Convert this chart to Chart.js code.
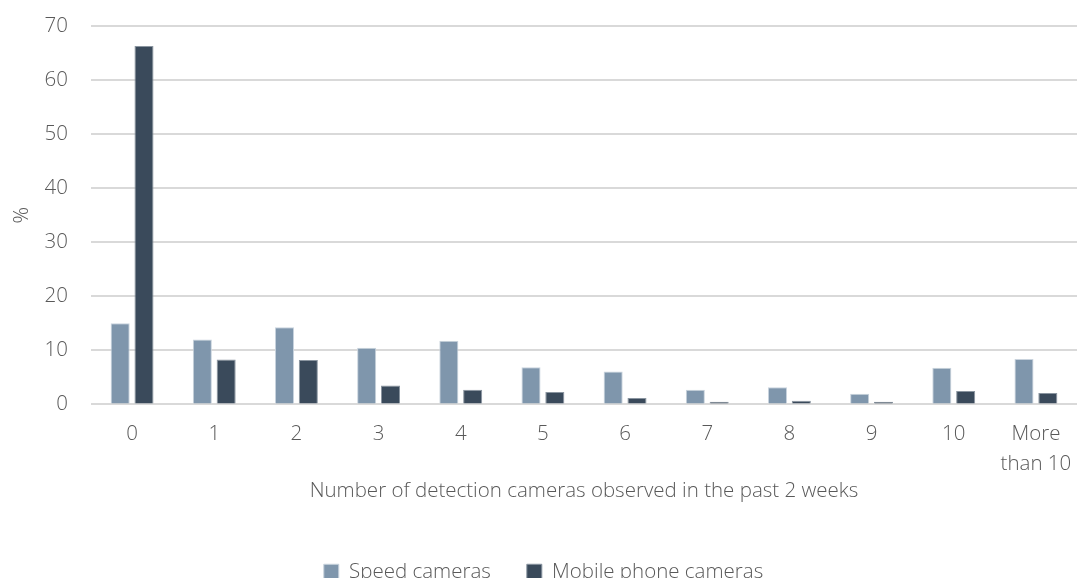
<!DOCTYPE html>
<html>
<head>
<meta charset="utf-8">
<script src="https://cdn.jsdelivr.net/npm/chart.js@4"></script>
<style>
  html, body { margin: 0; padding: 0; background: #fff; overflow: hidden; }
  #wrap { width: 1077px; height: 592px; position: relative; }
</style>
</head>
<body>
<div id="wrap"><canvas id="chart"></canvas></div>
<script>
// categories on the x axis
const categories = ['0', '1', '2', '3', '4', '5', '6', '7', '8', '9', '10', ['More', 'than 10']];
// % of respondents
const speedCameras = [15.0, 12.0, 14.3, 10.5, 11.8, 6.9, 6.1, 2.7, 3.2, 2.0, 6.8, 8.4];
const mobilePhoneCameras = [66.3, 8.3, 8.2, 3.5, 2.7, 2.3, 1.2, 0.5, 0.7, 0.5, 2.5, 2.1];

const textColor = '#595959';
const fontFamily = '"Open Sans", "Noto Sans", sans-serif';
const baseFont = { family: fontFamily, size: 20.5, weight: 300 };

const ctx = document.getElementById('chart').getContext('2d');
new Chart(ctx, {
    type: 'bar',
    data: {
        labels: categories,
        datasets: [
            {
                label: 'Speed cameras',
                data: speedCameras,
                backgroundColor: '#7f96ac',
                borderColor: '#c9d3dd',
                borderWidth: 1,
                categoryPercentage: 0.58,
                barPercentage: 0.8
            },
            {
                label: 'Mobile phone cameras',
                data: mobilePhoneCameras,
                backgroundColor: '#3a4a5b',
                borderColor: '#8a95a0',
                borderWidth: 1,
                categoryPercentage: 0.58,
                barPercentage: 0.8
            }
        ]
    },
    options: {
        responsive: true, maintainAspectRatio: false, animation: false,
        layout: { padding: { top: 26, right: 0, left: 10, bottom: 0 } },
        scales: {
            y: {
                min: 0, max: 70,
                ticks: { stepSize: 10, color: textColor, font: baseFont, padding: 23 },
                grid: { color: '#d9d9d9', lineWidth: 2, drawTicks: false },
                border: { display: false },
                title: { display: true, text: '%', color: textColor, font: baseFont, padding: 0 },
                afterFit: (scale) => { scale.width = 81; scale.paddingTop = 0; scale.paddingBottom = 0; }
            },
            x: {
                ticks: { color: textColor, font: { ...baseFont, lineHeight: 1.45 }, padding: 7, maxRotation: 0 },
                grid: { display: false },
                border: { display: false },
                title: { display: true, text: 'Number of detection cameras observed in the past 2 weeks', color: textColor, font: baseFont, padding: { top: -7, bottom: 22 } },
                afterFit: (scale) => { scale.paddingLeft = 0; scale.paddingRight = 0; }
            }
        },
        plugins: {
            legend: {
                position: 'bottom',
                labels: { color: textColor, font: baseFont, boxWidth: 15, boxHeight: 15, padding: 36, useBorderRadius: false }
            },
            tooltip: { enabled: false }
        }
    }
});
</script>
</body>
</html>
